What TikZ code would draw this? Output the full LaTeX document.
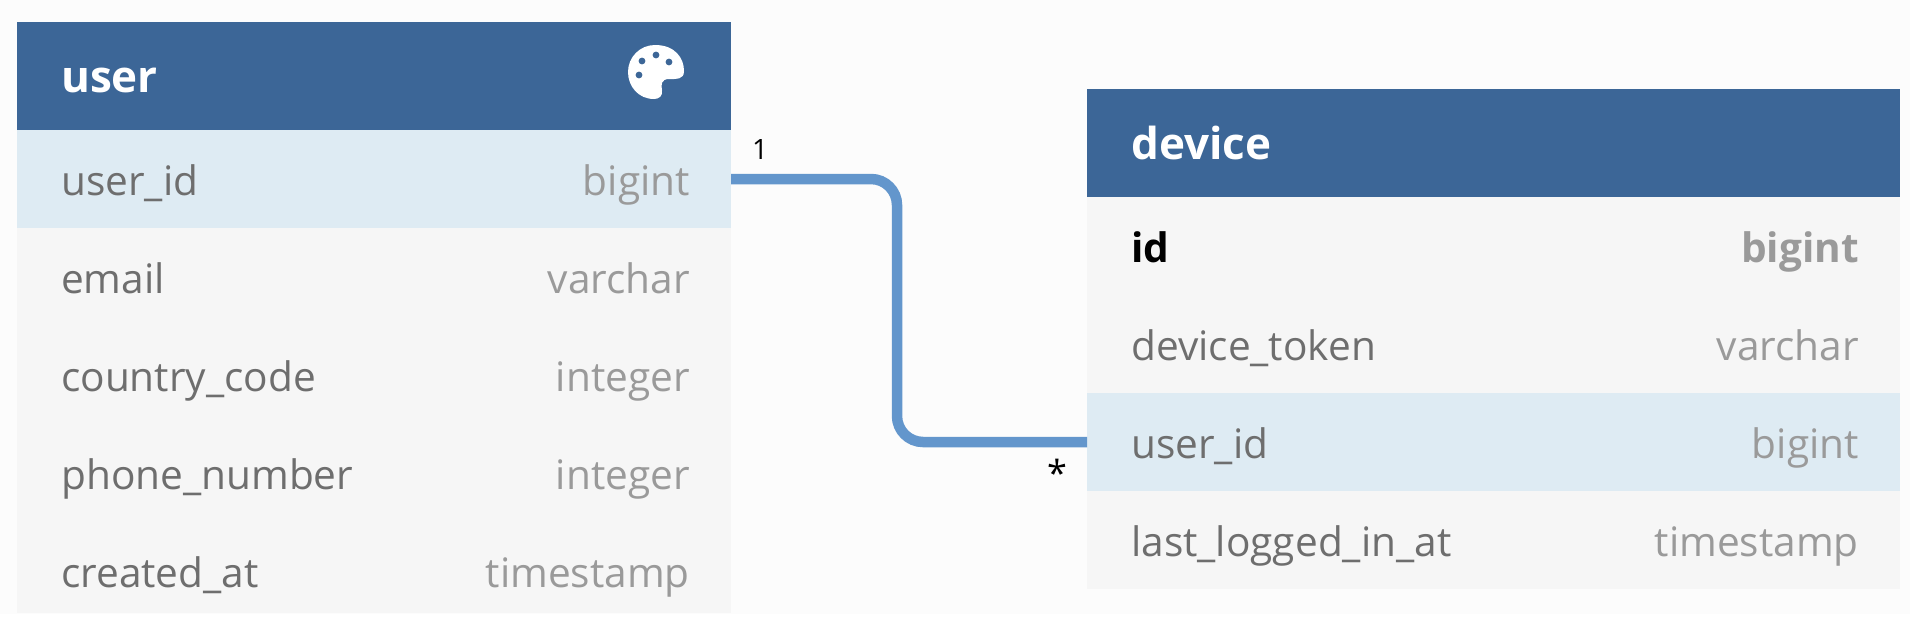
\documentclass[tikz,border=0pt]{standalone}
\usepackage{fontspec}
\setmainfont{Open Sans}
\usepackage{xcolor}
\usetikzlibrary{positioning}
\definecolor{headblue}{HTML}{3C6697}
\definecolor{rowgray}{HTML}{F6F6F6}
\definecolor{rowblue}{HTML}{DEEBF3}
\definecolor{linkblue}{HTML}{6396CC}
\definecolor{pagegray}{HTML}{FCFCFC}
\definecolor{namegray}{HTML}{6E6E6E}
\definecolor{typegray}{HTML}{9A9A9A}
\tikzset{
  headbox/.style={fill=headblue,minimum height=108pt,inner sep=0pt,outer sep=0pt},
  rowbox/.style={fill=rowgray,minimum height=98pt,inner sep=0pt,outer sep=0pt},
  keybox/.style={rowbox,fill=rowblue},
  headtext/.style={anchor=base west,inner sep=0pt,text=white,font=\fontsize{44}{44}\selectfont\bfseries},
  fieldname/.style={anchor=base west,inner sep=0pt,text=namegray,font=\fontsize{40.6}{41}\selectfont},
  fieldtype/.style={anchor=base east,inner sep=0pt,text=typegray,font=\fontsize{40.6}{41}\selectfont},
  cardtext/.style={inner sep=0pt,text=black,font=\fontsize{28}{28}\selectfont}
}
\begin{document}
\begin{tikzpicture}[x=1pt,y=-1pt]
\useasboundingbox (0,0) rectangle (1910,627);
\fill[pagegray] (0,0) rectangle (1910,614);

% Table user
\node[headbox,minimum width=714pt,anchor=north west] (userhead) at (17,22) {};
\node[keybox,minimum width=714pt,below=0pt of userhead] (userkey) {};
\node[headtext] (usertitle) at ([xshift=44pt,yshift=-16pt]userhead.west) {user};
\node[fieldname] (userkeyname) at ([xshift=44pt,yshift=-16pt]userkey.west) {user\_id};
\node[fieldtype] (userkeytype) at ([xshift=-41pt,yshift=-16pt]userkey.east) {bigint};
\node[rowbox,minimum width=714pt,below=0pt of userkey] (userrowa) {};
\node[fieldname] (usernamea) at ([xshift=44pt,yshift=-16pt]userrowa.west) {email};
\node[fieldtype] (usertypea) at ([xshift=-41pt,yshift=-16pt]userrowa.east) {varchar};
\node[rowbox,minimum width=714pt,below=0pt of userrowa] (userrowb) {};
\node[fieldname] (usernameb) at ([xshift=44pt,yshift=-16pt]userrowb.west) {country\_code};
\node[fieldtype] (usertypeb) at ([xshift=-41pt,yshift=-16pt]userrowb.east) {integer};
\node[rowbox,minimum width=714pt,below=0pt of userrowb] (userrowc) {};
\node[fieldname] (usernamec) at ([xshift=44pt,yshift=-16pt]userrowc.west) {phone\_number};
\node[fieldtype] (usertypec) at ([xshift=-41pt,yshift=-16pt]userrowc.east) {integer};
\node[rowbox,minimum width=714pt,minimum height=91pt,below=0pt of userrowc] (userrowd) {};
\node[fieldname] (usernamed) at ([xshift=44pt,yshift=-19.5pt]userrowd.west) {created\_at};
\node[fieldtype] (usertyped) at ([xshift=-41pt,yshift=-19.5pt]userrowd.east) {timestamp};

% Palette icon
\fill[white] (655,45) .. controls (675,45) and (684,58) .. (684,71)
  .. controls (684,80) and (676,79) .. (669,79)
  .. controls (661,79) and (661,85) .. (662,90)
  .. controls (663,96) and (659,99) .. (654,99)
  .. controls (638,99) and (628,86) .. (628,72)
  .. controls (628,57) and (640,45) .. (655,45) -- cycle;
\foreach \dotx/\doty in {656/55,642/61,669/62,639/75}
  \fill[headblue] (\dotx,\doty) circle (3.4);

% Table device
\node[headbox,minimum width=813pt,anchor=north west] (devhead) at (1087,89) {};
\node[rowbox,minimum width=813pt,below=0pt of devhead] (devrowa) {};
\node[headtext] (devtitle) at ([xshift=44pt,yshift=-16pt]devhead.west) {device};
\node[fieldname,text=black,font=\fontsize{40.6}{41}\selectfont\bfseries] (devnamea) at ([xshift=44pt,yshift=-16pt]devrowa.west) {id};
\node[fieldtype,font=\fontsize{40.6}{41}\selectfont\bfseries] (devtypea) at ([xshift=-41pt,yshift=-16pt]devrowa.east) {bigint};
\node[rowbox,minimum width=813pt,below=0pt of devrowa] (devrowb) {};
\node[fieldname] (devnameb) at ([xshift=44pt,yshift=-16pt]devrowb.west) {device\_token};
\node[fieldtype] (devtypeb) at ([xshift=-41pt,yshift=-16pt]devrowb.east) {varchar};
\node[keybox,minimum width=813pt,below=0pt of devrowb] (devkey) {};
\node[fieldname] (devkeyname) at ([xshift=44pt,yshift=-16pt]devkey.west) {user\_id};
\node[fieldtype] (devkeytype) at ([xshift=-41pt,yshift=-16pt]devkey.east) {bigint};
\node[rowbox,minimum width=813pt,below=0pt of devkey] (devrowc) {};
\node[fieldname] (devnamec) at ([xshift=44pt,yshift=-16pt]devrowc.west) {last\_logged\_in\_at};
\node[fieldtype] (devtypec) at ([xshift=-41pt,yshift=-16pt]devrowc.east) {timestamp};

% Link user_id to user_id
\draw[linkblue,line width=10.5pt,rounded corners=26pt] (userkey.east) -| (897,300) |- (devkey.west);
\node[cardtext] (cardone) at (760,150) {1};
\node[cardtext,font=\fontsize{36}{36}\selectfont] (cardmany) at (1057,473) {*};
\end{tikzpicture}
\end{document}
